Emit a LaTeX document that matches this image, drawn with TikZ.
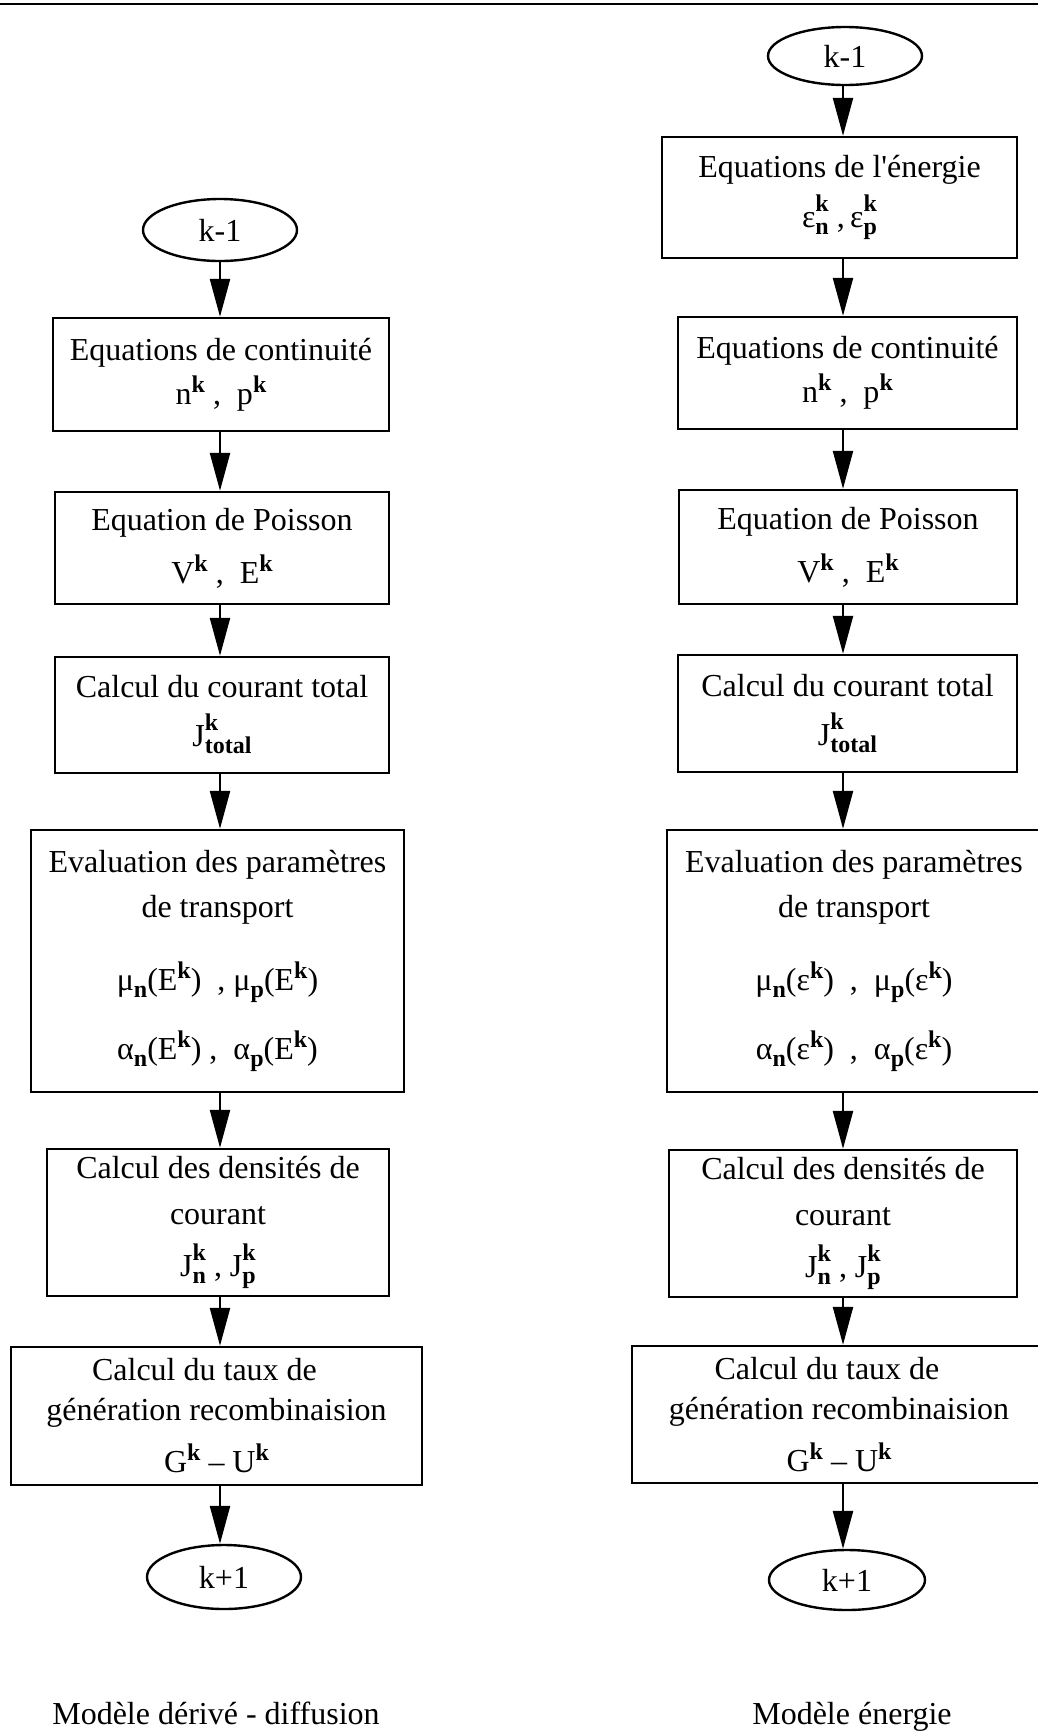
\documentclass[tikz,border=0pt]{standalone}
\usepackage{fontspec}
\setmainfont{Liberation Serif}
\usetikzlibrary{arrows.meta,shapes.geometric}
\newcommand\supf{\fontsize{12}{12}\selectfont\bfseries}
\newcommand\Kk{\raisebox{6pt}{\supf k}}
\newcommand\SupSub[2]{\rlap{\raisebox{8pt}{\supf #1}}\raisebox{-3.5pt}{\supf #2}}
\newcommand\Sb[1]{\raisebox{-3.5pt}{\supf #1}}
\begin{document}
\begin{tikzpicture}[x=0.5pt,y=-0.5pt,
  box/.style={draw, line width=1.2pt, rectangle, align=center, inner sep=0pt, font=\fontsize{16}{20}\selectfont},
  oval/.style={draw, line width=1.2pt, ellipse, inner sep=0pt, font=\fontsize{16}{20}\selectfont},
  arr/.style={line width=1.2pt, -{Triangle[length=19pt,width=10pt]}},
  lbl/.style={anchor=base, inner sep=0pt, font=\fontsize{16}{20}\selectfont}]
\path[use as bounding box, fill=white] (0,0) rectangle (1038,1731);
\draw[line width=1.2pt] (0,4) -- (1038,4);
\coordinate (cL) at (220,0);
\coordinate (cR) at (843,0);
% left column
\node[oval, minimum width=77pt, minimum height=31pt] (L0) at (220,230) {k-1};
\node[box, minimum width=168pt, minimum height=56.5pt] (L1) at (221,374.5) {Equations de continuité\\[2pt] n\Kk\ ,\ \ p\Kk};
\node[box, minimum width=167pt, minimum height=56pt] (L2) at (222,548) {Equation de Poisson\\[6.5pt] V\Kk\ ,\ \ E\Kk};
\node[box, minimum width=167pt, minimum height=58pt] (L3) at (222,715) {Calcul du courant total\\[4.5pt] J\SupSub{k}{total}};
\node[box, minimum width=186.5pt, minimum height=131pt] (L4) at (217.5,961) {Evaluation des paramètres\\[2.5pt] de transport\\[16.5pt] μ\Sb{n}(E\Kk)\ \ ,\ μ\Sb{p}(E\Kk)\\[13.5pt] α\Sb{n}(E\Kk)\ ,\ \ α\Sb{p}(E\Kk)};
\node[box, minimum width=171pt, minimum height=73.5pt] (L5) at (218,1222.5) {Calcul des densités de\\[3pt] courant\\[6pt] J\SupSub{k}{n}\ ,\ J\SupSub{k}{p}};
\node[box, minimum width=205.5pt, minimum height=69pt] (L6) at (216.5,1416) {Calcul du taux de\rule{12pt}{0pt}\\ génération recombinaision\\[6pt] G\Kk{} – U\Kk};
\node[oval, minimum width=77pt, minimum height=32pt] (L7) at (224,1577) {k+1};
\node[lbl] (LT) at (216,1724) {Modèle dérivé - diffusion};
\draw[arr] (L0.south -| cL) -- (L1.north -| cL);
\draw[arr] (L1.south -| cL) -- (L2.north -| cL);
\draw[arr] (L2.south -| cL) -- (L3.north -| cL);
\draw[arr] (L3.south -| cL) -- (L4.north -| cL);
\draw[arr] (L4.south -| cL) -- (L5.north -| cL);
\draw[arr] (L5.south -| cL) -- (L6.north -| cL);
\draw[arr] (L6.south -| cL) -- (L7.north -| cL);
% right column
\node[oval, minimum width=77pt, minimum height=29pt] (R0) at (845,56) {k-1};
\node[box, minimum width=177.5pt, minimum height=60.5pt] (R1) at (839.5,197.5) {Equations de l\textquotesingle énergie\\[5pt] ε\SupSub{k}{n}\ ,\,ε\SupSub{k}{p}};
\node[box, minimum width=169.5pt, minimum height=56pt] (R2) at (847.5,373) {Equations de continuité\\[2pt] n\Kk\ ,\ \ p\Kk};
\node[box, minimum width=169pt, minimum height=57pt] (R3) at (848,547) {Equation de Poisson\\[6.5pt] V\Kk\ ,\ \ E\Kk};
\node[box, minimum width=169.5pt, minimum height=58.5pt] (R4) at (847.5,713.5) {Calcul du courant total\\[4.5pt] J\SupSub{k}{total}};
\node[box, minimum width=187pt, minimum height=131pt] (R5) at (854,961) {Evaluation des paramètres\\[2.5pt] de transport\\[16.5pt] μ\Sb{n}(ε\Kk)\ \ ,\ \ μ\Sb{p}(ε\Kk)\\[13.5pt] α\Sb{n}(ε\Kk)\ \ ,\ \ α\Sb{p}(ε\Kk)};
\node[box, minimum width=174pt, minimum height=73.5pt] (R6) at (843,1223.5) {Calcul des densités de\\[3pt] courant\\[6pt] J\SupSub{k}{n}\ ,\ J\SupSub{k}{p}};
\node[box, minimum width=207pt, minimum height=68.5pt] (R7) at (839,1414.5) {Calcul du taux de\rule{12pt}{0pt}\\ génération recombinaision\\[6pt] G\Kk{} – U\Kk};
\node[oval, minimum width=78pt, minimum height=30pt] (R8) at (847,1580) {k+1};
\node[lbl] (RT) at (852,1724) {Modèle énergie};
\draw[arr] (R0.south -| cR) -- (R1.north -| cR);
\draw[arr] (R1.south -| cR) -- (R2.north -| cR);
\draw[arr] (R2.south -| cR) -- (R3.north -| cR);
\draw[arr] (R3.south -| cR) -- (R4.north -| cR);
\draw[arr] (R4.south -| cR) -- (R5.north -| cR);
\draw[arr] (R5.south -| cR) -- (R6.north -| cR);
\draw[arr] (R6.south -| cR) -- (R7.north -| cR);
\draw[arr] (R7.south -| cR) -- (R8.north -| cR);
\end{tikzpicture}
\end{document}
